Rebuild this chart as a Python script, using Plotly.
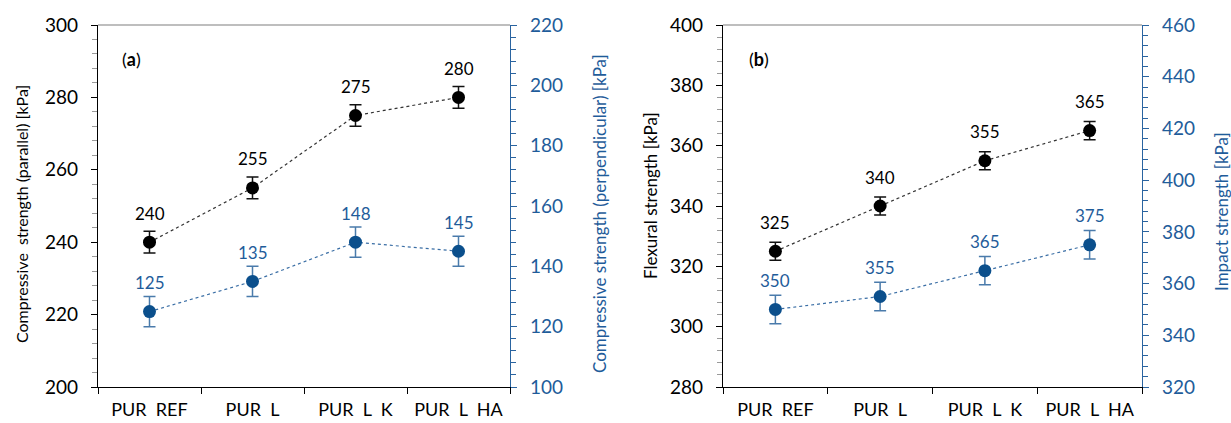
import plotly.graph_objects as go

# Sample groups on the category axis
categories = ["PUR\u00a0\u00a0REF", "PUR\u00a0\u00a0L", "PUR\u00a0\u00a0L\u00a0\u00a0K", "PUR\u00a0\u00a0L\u00a0\u00a0HA"]

# (a) compressive strength, kPa
comp_parallel = [240, 255, 275, 280]
comp_parallel_err = [3, 3, 3, 3]
comp_perpendicular = [125, 135, 148, 145]
comp_perpendicular_err = [5, 5, 5, 5]

# (b) flexural and impact strength, kPa
flexural = [325, 340, 355, 365]
flexural_err = [3, 3, 3, 3]
impact = [350, 355, 365, 375]
impact_err = [5.5, 5.5, 5.5, 5.5]

FONT = "Lato"
BLACK = "#000000"
BLUE_MARK = "#0b4f8c"
BLUE_TEXT = "#1f5c9a"
BLUE_ERR = "#4a7bab"
BLUE_AXIS = "#2a64a0"

W, H = 1231, 423
panel_a = (98 / W, 510 / W)
panel_b = (723 / W, 1142 / W)
ydom = (1 - 387 / H, 1 - 25 / H)

fig = go.Figure()


def add_series(x_ax, y_ax, values, errs, mark_color, err_color, line_color):
    fig.add_trace(go.Scatter(
        x=categories, y=values, xaxis=x_ax, yaxis=y_ax,
        mode="lines+markers",
        line=dict(color=line_color, width=1.2, dash="dot"),
        marker=dict(color=mark_color, size=13),
        error_y=dict(type="data", array=errs, visible=True,
                     color=err_color, thickness=1.5, width=6),
        showlegend=False, hoverinfo="skip",
    ))


add_series("x", "y", comp_parallel, comp_parallel_err, BLACK, "#111111", "#333333")
add_series("x", "y2", comp_perpendicular, comp_perpendicular_err, BLUE_MARK, BLUE_ERR, "#3a6ea5")
add_series("x2", "y3", flexural, flexural_err, BLACK, "#111111", "#333333")
add_series("x2", "y4", impact, impact_err, BLUE_MARK, BLUE_ERR, "#3a6ea5")

annotations = []


def value_labels(x_ax, y_ax, values, color):
    for c, v in zip(categories, values):
        annotations.append(dict(
            x=c, y=v, xref=x_ax, yref=y_ax, text=str(v), showarrow=False,
            yshift=29, font=dict(family=FONT, size=17, color=color),
        ))


value_labels("x", "y", comp_parallel, BLACK)
value_labels("x", "y2", comp_perpendicular, BLUE_TEXT)
value_labels("x2", "y3", flexural, BLACK)
value_labels("x2", "y4", impact, BLUE_TEXT)


def axis_title(x_px, y_px, text, color, size=17):
    annotations.append(dict(
        x=x_px / W, y=1 - y_px / H, xref="paper", yref="paper",
        text=text, textangle=-90, showarrow=False,
        xanchor="center", yanchor="middle",
        font=dict(family=FONT, size=size, color=color),
    ))


axis_title(22, 214, "Compressive\u00a0\u00a0strength (parallel) [kPa]", BLACK, 16)
axis_title(600, 214, "Compressive strength (perpendicular) [kPa]", BLUE_TEXT)
axis_title(650, 196, "Flexural strength [kPa]", BLACK)
axis_title(1222, 212, "Impact strength [kPa]", BLUE_TEXT)

# panel tags
for x_px, tag in [(131, "a"), (759, "b")]:
    annotations.append(dict(
        x=x_px / W, y=1 - 59 / H, xref="paper", yref="paper",
        xanchor="center", yanchor="middle",
        text=f"(<b>{tag}</b>)", showarrow=False,
        font=dict(family=FONT, size=18, color=BLACK),
    ))

# top border of each plot area
shapes = []
for dom in (panel_a, panel_b):
    shapes.append(dict(type="line", xref="paper", yref="paper",
                       x0=dom[0], x1=dom[1], y0=ydom[1], y1=ydom[1],
                       line=dict(color="#7f7f7f", width=1.2)))

xaxis_common = dict(
    type="category", range=[-0.5, 3.5], showgrid=False, zeroline=False,
    showline=True, linecolor=BLACK, linewidth=1.2, automargin=False,
    ticks="outside", tickson="boundaries", ticklen=6, tickcolor=BLACK,
    tickfont=dict(family=FONT, size=18, color=BLACK),
    ticklabelstandoff=6,
)


def yaxis_left(rng, dom_anchor):
    return dict(
        range=rng, dtick=20, showgrid=False, zeroline=False,
        showline=True, linecolor=BLACK, linewidth=1.2, automargin=False,
        ticks="outside", ticklen=6, tickcolor=BLACK,
        minor=dict(dtick=4, ticks="outside", ticklen=5, tickcolor="#9a9a9a"),
        tickfont=dict(family=FONT, size=19, color=BLACK),
        ticklabelstandoff=9,
        domain=list(ydom), anchor=dom_anchor,
    )


def yaxis_right(rng, overlay, dom_anchor):
    return dict(
        range=rng, dtick=20, showgrid=False, zeroline=False,
        showline=True, linecolor=BLUE_AXIS, linewidth=1.2, automargin=False,
        ticks="outside", ticklen=6, tickcolor=BLUE_AXIS,
        minor=dict(dtick=4, ticks="outside", ticklen=5, tickcolor=BLUE_AXIS),
        tickfont=dict(family=FONT, size=19, color=BLUE_TEXT),
        ticklabelstandoff=9,
        overlaying=overlay, side="right", anchor=dom_anchor,
    )


fig.update_layout(
    width=W, height=H,
    margin=dict(l=0, r=0, t=0, b=0, autoexpand=False),
    paper_bgcolor="white", plot_bgcolor="white",
    xaxis=dict(domain=list(panel_a), anchor="y", **xaxis_common),
    xaxis2=dict(domain=list(panel_b), anchor="y3", **xaxis_common),
    yaxis=yaxis_left([200, 300], "x"),
    yaxis2=yaxis_right([100, 220], "y", "x"),
    yaxis3=yaxis_left([280, 400], "x2"),
    yaxis4=yaxis_right([320, 460], "y3", "x2"),
    annotations=annotations,
    shapes=shapes,
)

fig.write_html("out.html")
